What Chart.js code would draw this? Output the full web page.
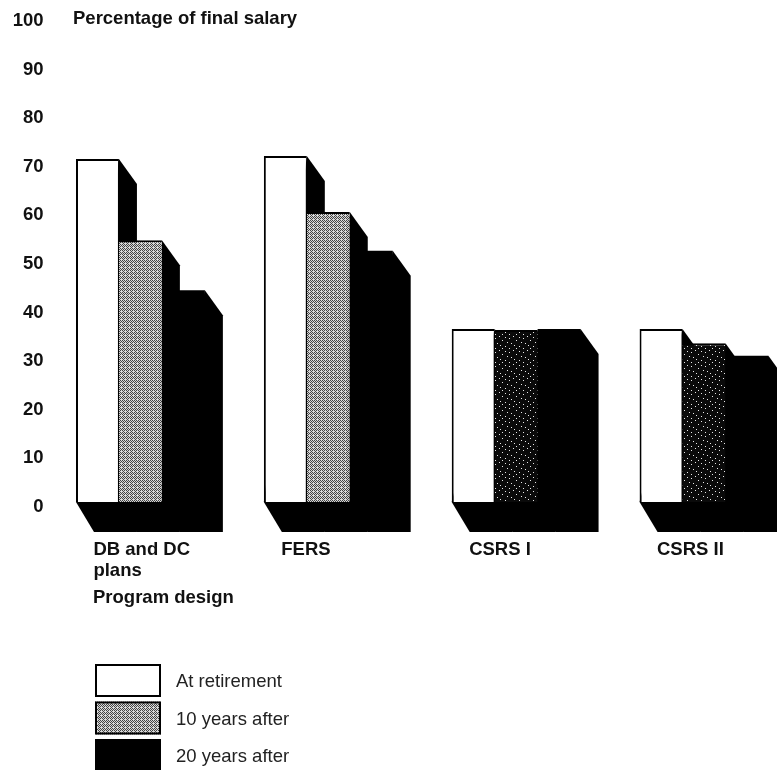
<!DOCTYPE html>
<html>
<head>
<meta charset="utf-8">
<style>
  html, body { margin: 0; padding: 0; background: #fff; overflow: hidden; }
  #wrap { width: 777px; height: 770px; overflow: hidden; }
  canvas { display: block; }
</style>
<script src="https://cdn.jsdelivr.net/npm/chart.js@4/dist/chart.umd.min.js"></script>
</head>
<body>
<div id="wrap"><canvas id="chart" width="804" height="770"></canvas></div>
<script>
// Data
const categories = [['DB and DC', 'plans'], 'FERS', 'CSRS I', 'CSRS II'];
const atRetirement = [71.4, 72, 36.4, 36.4];
const tenYearsAfter = [54.7, 60.5, 36.2, 33.5];
const twentyYearsAfter = [44.4, 52.5, 36.4, 30.9];
const seriesLabels = ['At retirement', '10 years after', '20 years after'];
const yTicks = [0, 10, 20, 30, 40, 50, 60, 70, 80, 90, 100];
const yTitle = 'Percentage of final salary';
const xTitle = 'Program design';

const boldFont = 'bold 18.5px "Liberation Sans"';

// Halftone fills for the middle bars
function lightTone() {
    const c = document.createElement('canvas');
    c.width = c.height = 4;
    const g = c.getContext('2d');
    g.fillStyle = '#d8d8d8';
    g.fillRect(0, 0, 4, 4);
    g.fillStyle = '#444';
    [[0, 0], [2, 0], [1, 1], [3, 1], [0, 2], [2, 2], [3, 3]].forEach(p => g.fillRect(p[0], p[1], 1, 1));
    return g.createPattern(c, 'repeat');
}

function darkTone() {
    const c = document.createElement('canvas');
    c.width = c.height = 14;
    const g = c.getContext('2d');
    g.fillStyle = '#0a0a0a';
    g.fillRect(0, 0, 14, 14);
    g.fillStyle = '#e8e8e8';
    [[1, 1], [5, 2], [9, 0], [12, 4], [3, 6], [7, 7], [10, 9], [1, 10], [5, 12], [12, 12]].forEach(p => g.fillRect(p[0], p[1], 1, 1));
    return g.createPattern(c, 'repeat');
}

const light = lightTone();
const dark = darkTone();

// Black side and floor behind every bar
const depthPlugin = {
    id: 'depth',
    beforeDatasetsDraw(chart) {
        const ctx = chart.ctx;
        ctx.save();
        ctx.fillStyle = '#000';
        chart.data.datasets.forEach((ds, i) => {
            chart.getDatasetMeta(i).data.forEach(bar => {
                const l = bar.x - bar.width / 2;
                const r = bar.x + bar.width / 2;
                ctx.beginPath();
                ctx.moveTo(l, bar.base);
                ctx.lineTo(l + 18, bar.base + 30);
                ctx.lineTo(r + 18, bar.base + 30);
                ctx.lineTo(r + 18, bar.y + 25);
                ctx.lineTo(r, bar.y);
                ctx.closePath();
                ctx.fill();
            });
        });
        ctx.restore();
    }
};

// Axis captions and the legend stacked under the chart
const notesPlugin = {
    id: 'notes',
    afterDraw(chart) {
        const ctx = chart.ctx;
        ctx.save();
        ctx.fillStyle = '#111';
        ctx.textBaseline = 'middle';
        ctx.font = boldFont;
        ctx.fillText(yTitle, 73, 19);
        ctx.fillText(xTitle, 93, 598);

        const fills = ['#fff', light, '#000'];
        ctx.font = '18.5px "Liberation Sans"';
        seriesLabels.forEach((label, i) => {
            const top = 664 + i * 37.5;
            ctx.fillStyle = fills[i];
            ctx.fillRect(95, top, 66, 33);
            ctx.strokeStyle = '#000';
            ctx.lineWidth = 2;
            ctx.strokeRect(96, top + 1, 64, 31);
            ctx.fillStyle = '#222';
            ctx.fillText(label, 176, top + 18);
        });
        ctx.restore();
    }
};

new Chart(document.getElementById('chart').getContext('2d'), {
    type: 'bar',
    data: {
        labels: categories,
        datasets: [
            {
                label: seriesLabels[0],
                data: atRetirement,
                base: 0.8,
                backgroundColor: '#fff',
                borderColor: '#000',
                borderWidth: { left: 2, top: 2, right: 1, bottom: 0 },
                borderSkipped: false
            },
            {
                label: seriesLabels[1],
                data: tenYearsAfter,
                base: 0.8,
                backgroundColor: [light, light, dark, dark],
                borderColor: '#000',
                borderWidth: { left: 0, top: 2, right: 0, bottom: 0 },
                borderSkipped: false
            },
            {
                label: seriesLabels[2],
                data: twentyYearsAfter,
                base: 0.8,
                backgroundColor: '#000'
            }
        ]
    },
    options: {
        responsive: false,
        animation: false,
        devicePixelRatio: 1,
        layout: { padding: { top: 20, left: 0, right: 1.5, bottom: 0 } },
        datasets: { bar: { categoryPercentage: 0.686, barPercentage: 1 } },
        plugins: { legend: { display: false }, tooltip: { enabled: false } },
        scales: {
            x: {
                grid: { display: false, tickLength: 0 },
                border: { display: false },
                afterFit(scale) { scale.height = 264; },
                ticks: {
                    align: 'start',
                    labelOffset: -47,
                    maxRotation: 0,
                    autoSkip: false,
                    padding: 33,
                    color: '#111',
                    font: { family: 'Liberation Sans', size: 18.5, weight: 'bold', lineHeight: 1.15 }
                }
            },
            y: {
                min: 0,
                max: 100,
                grid: { display: false, tickLength: 0 },
                border: { display: false },
                afterFit(scale) { scale.width = 46.5; },
                afterBuildTicks(scale) { scale.ticks = yTicks.map(v => ({ value: v })); },
                ticks: {
                    padding: 3,
                    labelOffset: 1,
                    color: '#111',
                    font: { family: 'Liberation Sans', size: 18.5, weight: 'bold' }
                }
            }
        }
    },
    plugins: [depthPlugin, notesPlugin]
});
</script>
</body>
</html>
